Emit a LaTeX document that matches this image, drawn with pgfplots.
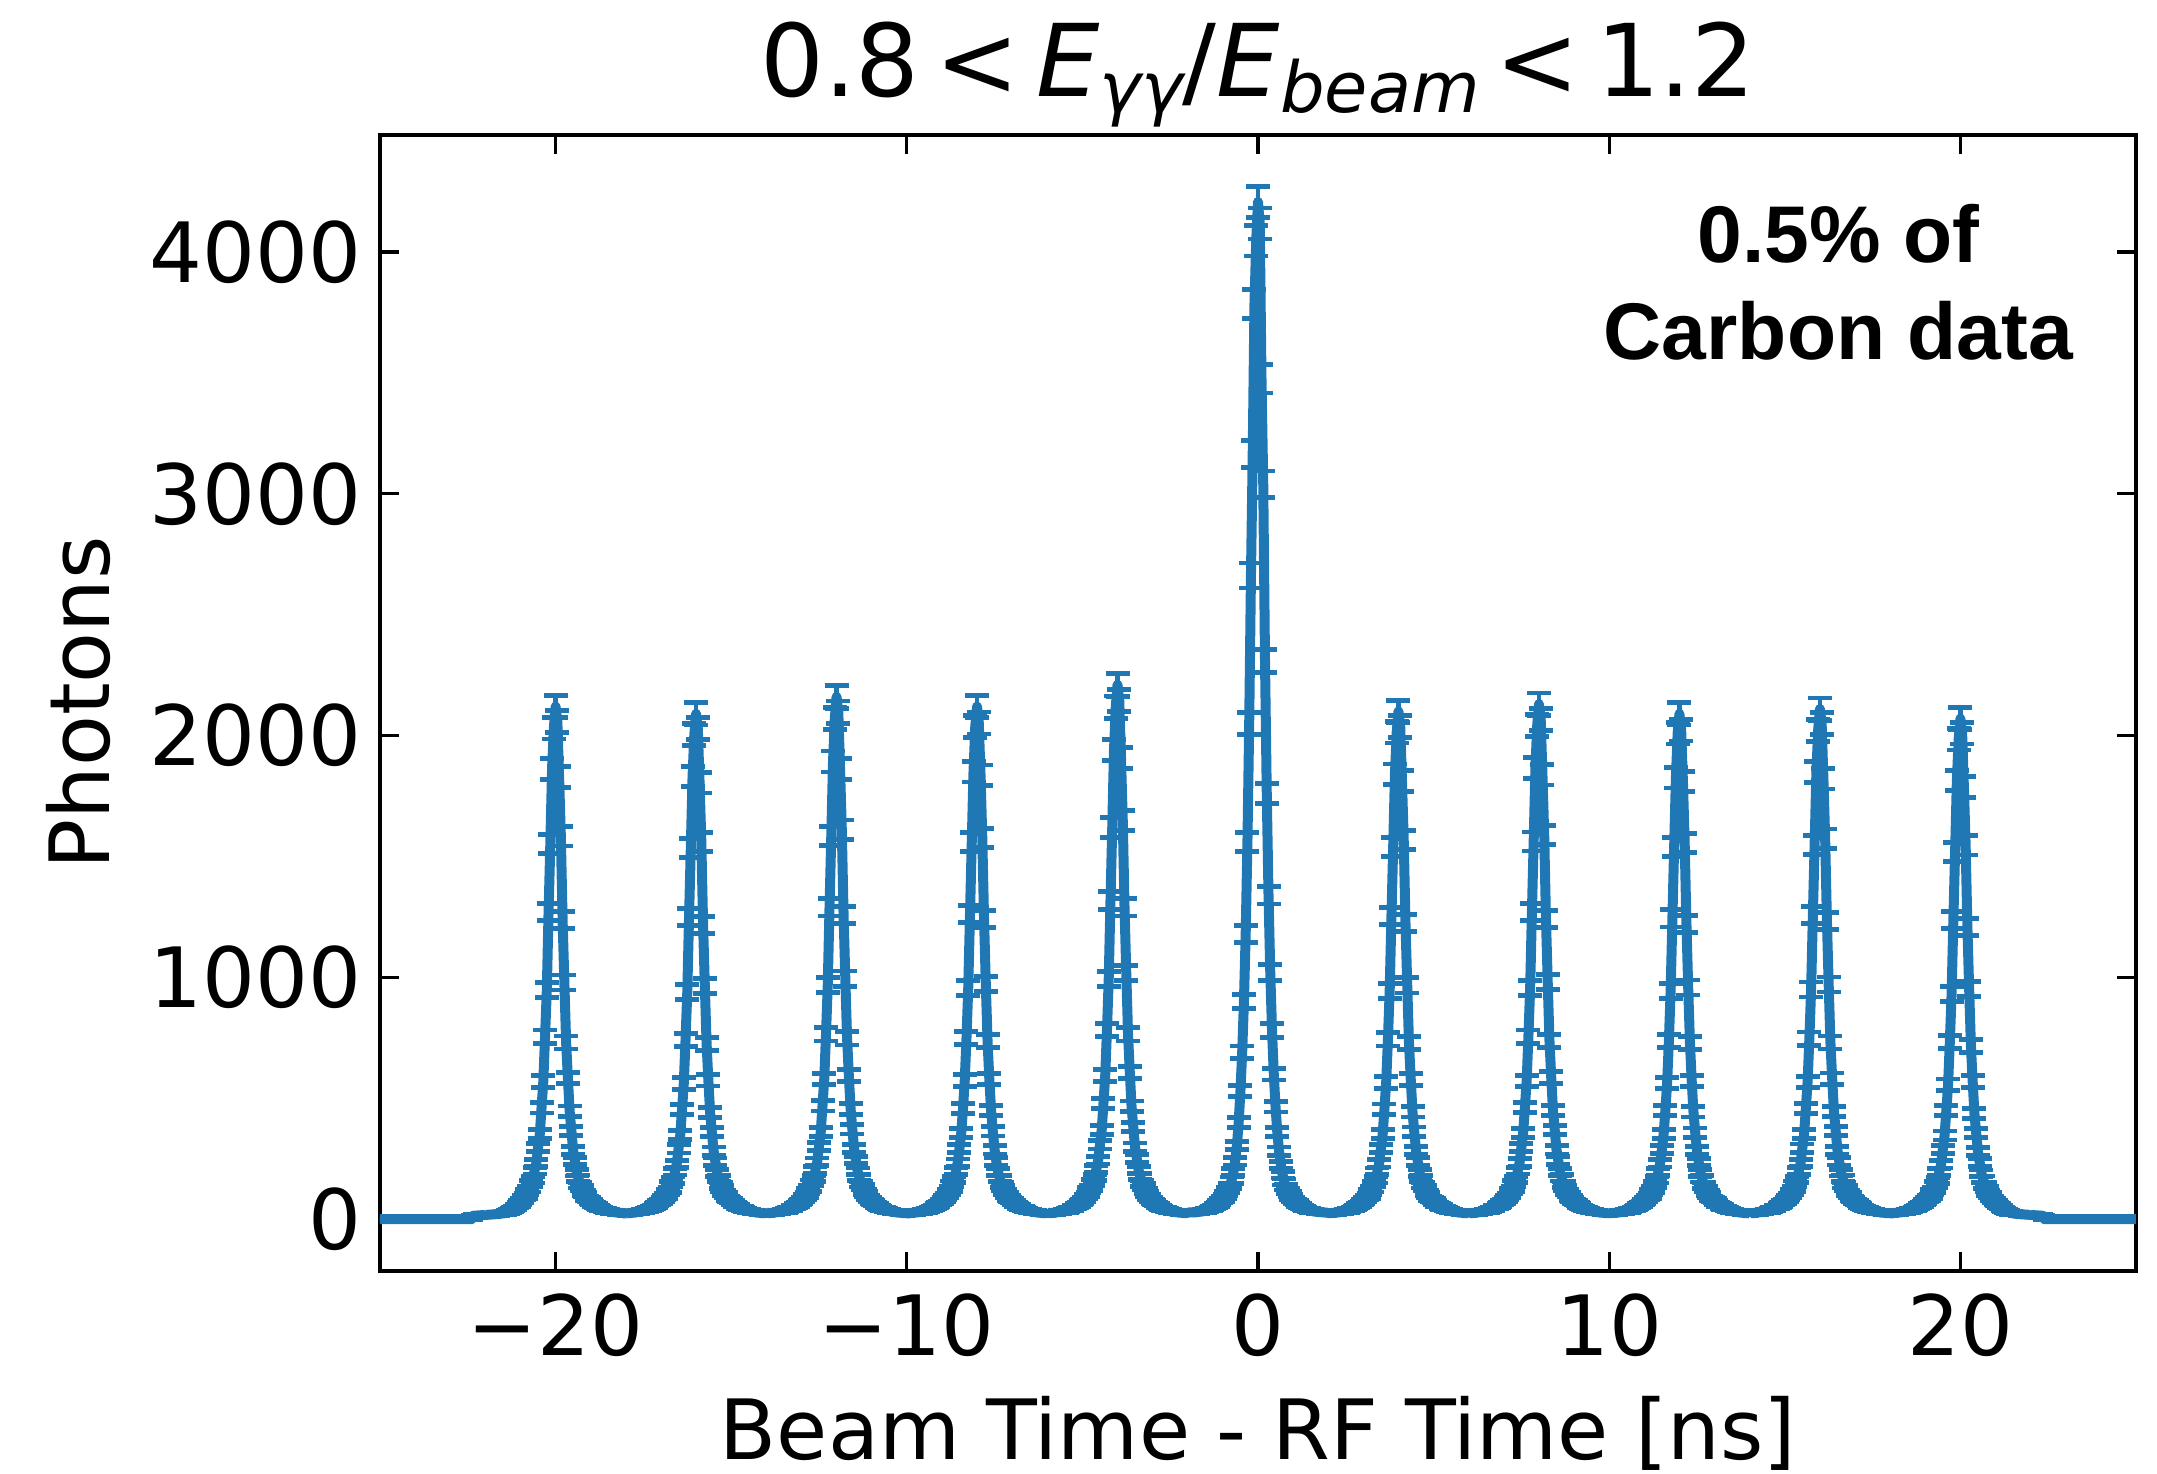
\documentclass[border=0pt]{standalone}
\usepackage{fontspec}
\setmainfont{DejaVu Sans}
\newfontfamily\lsans{Liberation Sans}
\usepackage{pgfplots}
\usepackage{pgfplotstable}
\pgfplotsset{compat=1.18}
\definecolor{c0}{RGB}{31,119,180}

% counts per 0.05 ns bin; column d = offset from bunch centre, one column per bunch
\pgfplotstableread{
d A B C D E F G H I J K
-2.00 18 24 26 25 27 28 27 25 26 24 25
-1.95 18 25 26 24 26 28 24 26 24 26 24
-1.90 19 25 25 26 25 28 26 25 26 25 26
-1.85 19 26 27 26 27 28 26 27 26 27 26
-1.80 20 27 26 26 26 28 26 26 26 26 26
-1.75 20 27 28 28 28 29 28 28 28 28 28
-1.70 21 29 29 28 29 30 28 29 28 29 28
-1.65 21 29 29 30 29 31 30 29 30 29 30
-1.60 22 31 31 30 31 32 30 31 30 31 30
-1.55 23 32 32 32 32 33 32 32 32 32 32
-1.50 24 33 34 34 34 35 34 34 34 34 34
-1.45 25 36 35 35 35 37 35 35 35 35 35
-1.40 27 38 38 38 38 40 38 38 38 38 38
-1.35 30 41 42 40 42 43 40 42 40 42 40
-1.30 33 44 44 43 44 47 43 44 43 44 43
-1.25 37 47 49 48 49 51 48 49 48 49 48
-1.20 42 52 52 51 52 56 51 52 51 52 51
-1.15 48 56 56 57 56 62 57 56 57 56 57
-1.10 55 63 62 62 62 69 62 62 62 62 62
-1.05 62 68 68 67 68 76 67 68 67 68 67
-1.00 70 74 74 75 74 84 75 74 75 74 75
-0.95 78 82 81 80 81 94 80 81 80 81 80
-0.90 90 89 92 90 94 106 89 90 89 90 88
-0.85 97 96 100 98 102 120 97 98 97 98 95
-0.80 114 113 116 113 119 138 112 115 112 113 111
-0.75 124 122 127 125 130 162 124 126 123 125 121
-0.70 147 145 150 146 153 195 145 147 144 146 143
-0.65 163 162 168 165 172 240 163 165 163 164 161
-0.60 201 197 204 199 209 305 198 201 196 199 196
-0.55 232 229 238 234 244 400 231 235 231 232 227
-0.50 296 291 301 293 308 530 293 297 289 294 289
-0.45 352 349 361 356 369 690 351 356 351 353 346
-0.40 461 453 469 457 479 900 455 462 450 458 449
-0.35 569 561 580 573 594 1180 565 572 564 567 556
-0.30 755 741 765 749 783 1560 744 755 737 747 734
-0.25 948 940 970 957 993 2050 945 957 944 950 931
-0.20 1270 1249 1290 1262 1318 2662 1253 1271 1244 1258 1236
-0.15 1552 1534 1585 1560 1620 3165 1541 1562 1540 1548 1519
-0.10 1862 1831 1893 1851 1940 3785 1840 1867 1826 1849 1814
-0.05 2031 2004 2070 2038 2118 4047 2014 2041 2010 2022 1985
0.00 2120 2090 2160 2120 2210 4207 2100 2130 2090 2110 2070
0.05 2058 2029 2097 2052 2145 4118 2039 2068 2023 2049 2010
0.10 1828 1805 1862 1836 1907 3476 1813 1839 1810 1822 1788
0.15 1583 1561 1611 1577 1649 3039 1568 1590 1555 1574 1546
0.20 1236 1218 1259 1242 1290 2309 1226 1243 1222 1232 1208
0.25 979 963 995 972 1018 1760 967 981 958 971 953
0.30 731 724 748 736 765 1340 728 738 728 731 717
0.35 584 575 595 580 608 1020 578 586 572 581 570
0.40 447 441 456 450 467 780 444 450 444 446 437
0.45 366 360 372 363 381 600 362 368 358 364 357
0.50 285 282 292 287 298 465 284 287 283 285 279
0.55 241 238 245 239 251 360 239 243 236 240 235
0.60 193 191 198 195 203 282 192 195 192 193 190
0.65 170 168 173 168 177 225 169 171 167 170 166
0.70 141 139 145 142 148 184 141 143 140 141 139
0.75 129 127 132 128 135 154 128 130 126 129 126
0.80 110 109 112 111 115 132 110 111 110 110 108
0.85 102 100 103 101 105 116 100 102 99 101 99
0.90 87 86 89 88 92 103 87 88 87 87 86
0.95 80 83 82 83 82 92 83 82 83 82 79
1.00 75 76 74 76 74 83 76 74 76 74 71
1.05 67 69 68 69 68 75 69 68 69 68 63
1.10 62 61 63 61 63 68 61 63 61 63 56
1.15 57 58 56 58 56 61 58 56 58 56 49
1.20 51 53 52 53 52 56 53 52 53 52 43
1.25 48 48 47 48 47 51 48 47 48 47 38
1.30 43 45 44 45 44 46 45 44 45 44 34
1.35 40 41 41 41 41 43 41 41 41 41 30
1.40 38 37 38 37 38 40 37 38 37 38 28
1.45 35 36 36 36 36 37 36 36 36 36 26
1.50 34 34 33 34 33 35 34 33 34 33 24
1.55 32 31 32 31 32 33 31 32 31 32 23
1.60 30 31 31 31 31 32 31 31 31 31 22
1.65 30 30 29 30 29 31 30 29 30 29 22
1.70 28 28 29 28 29 30 28 29 28 29 21
1.75 28 27 27 27 27 29 27 27 27 27 20
1.80 26 27 27 27 27 29 27 27 27 27 20
1.85 26 25 26 25 26 28 25 26 25 26 19
1.90 26 26 25 26 25 28 26 25 26 25 19
1.95 24 25 25 25 25 27 25 25 25 25 18
2.00 24 26 25 27 28 27 25 26 24 25 18
}\peaks

\pgfplotstableread{
x y
-25.00 0
-22.40 0
-22.35 14
-22.30 15
-22.25 15
-22.20 16
-22.15 16
-22.10 17
-22.05 17
-22.00 18
}\outl

\pgfplotstableread{
x y
22.00 18
22.05 17
22.10 17
22.15 16
22.20 16
22.25 15
22.30 15
22.35 14
22.40 0
25.00 0
}\outr

\pgfplotsset{peak/.style={c0, line width=2.5pt, line join=round,
  error bars/.cd, y dir=both, y explicit,
  error mark=|,
  error bar style={line width=1.2pt, c0},
  error mark options={c0, mark size=3pt, line width=1.2pt}}}

\begin{document}
\begin{tikzpicture}
\useasboundingbox (-95pt,-50.75pt) rectangle (444.25pt,317.75pt);
\begin{axis}[
  at={(0,0)}, anchor=south west,
  width=439pt, height=284pt, scale only axis,
  xmin=-25, xmax=25, ymin=-214, ymax=4484,
  xtick={-20,-10,0,10,20}, xticklabels={−20,−10,0,10,20},
  ytick={0,1000,2000,3000,4000}, yticklabels={0,1000,2000,3000,4000},
  minor tick num=0,
  tick align=inside, major tick length=4.75pt,
  every tick/.style={black, line width=0.8pt},
  axis line style={line width=0.8pt},
  xticklabel style={font=\fontsize{20.8}{25}\selectfont, anchor=base, inner sep=0pt, yshift=-21.2pt},
  yticklabel style={font=\fontsize{20.8}{25}\selectfont, anchor=east, inner sep=0pt, xshift=-4.5pt},
]
\addplot[peak] table[x=x, y=y, y error expr=sqrt(\thisrow{y})] {\outl};
\addplot[peak] table[x expr=\thisrow{d}-20, y=A, y error expr=sqrt(\thisrow{A})] {\peaks};
\addplot[peak] table[x expr=\thisrow{d}-16, y=B, y error expr=sqrt(\thisrow{B})] {\peaks};
\addplot[peak] table[x expr=\thisrow{d}-12, y=C, y error expr=sqrt(\thisrow{C})] {\peaks};
\addplot[peak] table[x expr=\thisrow{d}-8, y=D, y error expr=sqrt(\thisrow{D})] {\peaks};
\addplot[peak] table[x expr=\thisrow{d}-4, y=E, y error expr=sqrt(\thisrow{E})] {\peaks};
\addplot[peak] table[x expr=\thisrow{d}, y=F, y error expr=sqrt(\thisrow{F})] {\peaks};
\addplot[peak] table[x expr=\thisrow{d}+4, y=G, y error expr=sqrt(\thisrow{G})] {\peaks};
\addplot[peak] table[x expr=\thisrow{d}+8, y=H, y error expr=sqrt(\thisrow{H})] {\peaks};
\addplot[peak] table[x expr=\thisrow{d}+12, y=I, y error expr=sqrt(\thisrow{I})] {\peaks};
\addplot[peak] table[x expr=\thisrow{d}+16, y=J, y error expr=sqrt(\thisrow{J})] {\peaks};
\addplot[peak] table[x expr=\thisrow{d}+20, y=K, y error expr=sqrt(\thisrow{K})] {\peaks};
\addplot[peak] table[x=x, y=y, y error expr=sqrt(\thisrow{y})] {\outr};
\end{axis}
% title
\node[anchor=base, inner sep=0pt, font=\fontsize{25.1}{30}\selectfont] at (219.5pt,293.5pt)
  {0.8\hspace{0.16em}<\hspace{0.16em}\textit{E}\raisebox{-4pt}{\fontsize{17.6}{20}\selectfont\itshape γγ}/\textit{E}\raisebox{-4pt}{\fontsize{17.6}{20}\selectfont\itshape beam}\hspace{0.16em}<\hspace{0.16em}1.2};
% axis labels
\node[anchor=base, inner sep=0pt, font=\fontsize{20.8}{25}\selectfont] at (219.5pt,-47.25pt) {Beam Time - RF Time [ns]};
\node[anchor=base, rotate=90, inner sep=0pt, font=\fontsize{20.8}{25}\selectfont] at (-67.5pt,142pt) {Photons};
% annotation
\node[anchor=base, inner sep=0pt, font=\lsans\bfseries\fontsize{20.1}{24}\selectfont] at (364.6pt,252pt) {0.5\% of};
\node[anchor=base, inner sep=0pt, font=\lsans\bfseries\fontsize{20.1}{24}\selectfont] at (364.6pt,227.75pt) {Carbon data};
\end{tikzpicture}
\end{document}
